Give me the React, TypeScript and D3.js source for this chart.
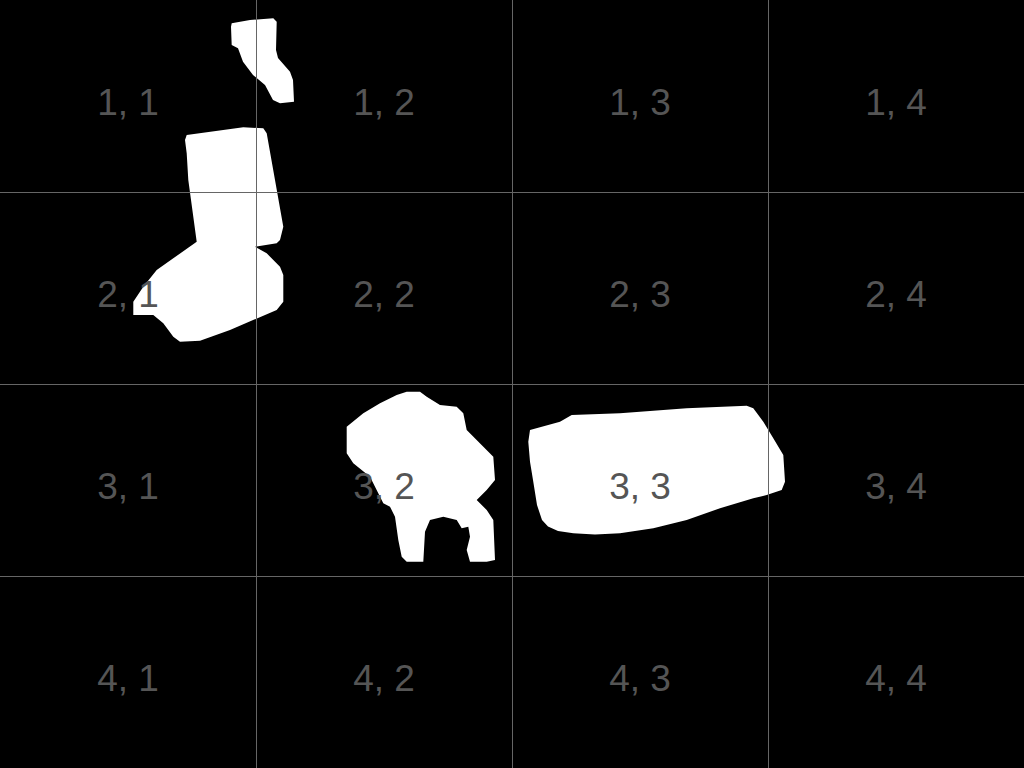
import { useEffect, useRef } from "react"
import * as d3 from "d3"

// grid rows / columns of the overlay
const rows = [1, 2, 3, 4]
const cols = [1, 2, 3, 4]

// mask regions, outline points in image pixel coordinates [x, y]
const blobTop: [number, number][] = [
  [231.7, 23.3], [250, 20], [273.3, 18.3], [276.7, 21.7], [276, 50], [278, 58],
  [290, 71.7], [293, 80], [294, 101.7], [280, 103.3], [273, 100], [265, 85],
  [253, 75], [243, 61.7], [238, 48.3], [231.7, 45], [231, 26.7],
]
const blobBoot: [number, number][] = [
  [186.7, 135], [243.3, 127.3], [263.3, 128.3], [266.7, 133.3], [275, 180],
  [283.3, 226.7], [280, 240], [276.7, 243.3], [255, 246.7], [266.7, 253.3],
  [280, 266.7], [283.3, 275], [283.3, 301.7], [276.7, 310], [230, 330],
  [200, 340.7], [180, 341.7], [173.3, 336.7], [163.3, 323.3], [153.3, 315],
  [133.3, 315], [133.3, 301.7], [143.3, 286.7], [156.7, 270], [173.3, 258.3],
  [196.7, 241.7], [188.3, 180], [186.7, 153.3], [185, 140],
]
const blobChair: [number, number][] = [
  [406.7, 391.7], [420, 391.7], [426.7, 396.7], [440, 405], [456.7, 406.7],
  [463.3, 413.3], [466.7, 430], [493.3, 456.7], [495, 480], [486.7, 490],
  [476.7, 500], [486.7, 510], [493.3, 520], [495, 560], [486.7, 561.7],
  [470, 561.7], [466.7, 550], [470, 536.7], [468.3, 526.7], [461.7, 528.3],
  [456.7, 520], [443.3, 516.7], [430, 520], [425, 531.7], [423.3, 561.7],
  [406.7, 561.7], [401.7, 556.7], [398.3, 540], [395, 516.7], [390, 506.7],
  [383.3, 503.3], [370, 476.7], [353.3, 463.3], [346.7, 453.3], [346.7, 426.7],
  [363.3, 413.3], [380, 403.3], [396.7, 395],
]
const blobCushion: [number, number][] = [
  [530, 430], [560, 421.7], [571.7, 415], [620, 413.3], [686.7, 408.3],
  [746.7, 405.7], [753.3, 408.3], [763.3, 421.7], [773.3, 438.3], [783.3, 455],
  [785, 481.7], [781.7, 490], [766.7, 495], [753.3, 498.3], [720, 508.3],
  [686.7, 520], [653.3, 528.3], [620, 533.3], [595, 534.5], [573.3, 533.3],
  [558, 531], [548, 526.5], [542, 520], [537, 505], [533, 480], [530, 461.7],
  [528.3, 441.7],
]
const blobs = [blobTop, blobBoot, blobChair, blobCushion]

export default function App() {
  const svgRef = useRef<SVGSVGElement>(null)

  useEffect(() => {
    if (!svgRef.current) return
    const width = 1024
    const height = 768

    d3.select(svgRef.current).selectAll("*").remove()
    const svg = d3.select(svgRef.current)

    // image pixel space -> screen
    const px = d3.scaleLinear().domain([0, 1024]).range([0, width])
    const py = d3.scaleLinear().domain([0, 768]).range([0, height])
    // grid space
    const gx = d3.scaleBand<number>().domain(cols).range([0, width])
    const gy = d3.scaleBand<number>().domain(rows).range([0, height])

    svg.append("rect").attr("width", width).attr("height", height).attr("fill", "#000")

    // white mask regions
    const line = d3
      .line<[number, number]>()
      .x((d) => px(d[0]))
      .y((d) => py(d[1]))
      .curve(d3.curveLinearClosed)

    svg
      .selectAll(".blob")
      .data(blobs)
      .enter()
      .append("path")
      .attr("class", "blob")
      .attr("d", (d) => line(d))
      .attr("fill", "#fff")

    // grid lines
    svg
      .selectAll(".vline")
      .data(cols.slice(1))
      .enter()
      .append("line")
      .attr("x1", (d) => (gx(d) as number) + 0.5)
      .attr("x2", (d) => (gx(d) as number) + 0.5)
      .attr("y1", 0)
      .attr("y2", height)
      .attr("stroke", "#666")
      .attr("stroke-width", 1)

    svg
      .selectAll(".hline")
      .data(rows.slice(1))
      .enter()
      .append("line")
      .attr("y1", (d) => (gy(d) as number) + 0.5)
      .attr("y2", (d) => (gy(d) as number) + 0.5)
      .attr("x1", 0)
      .attr("x2", width)
      .attr("stroke", "#666")
      .attr("stroke-width", 1)

    // cell labels
    const cells = rows.flatMap((r) => cols.map((c) => ({ r, c })))
    svg
      .selectAll(".label")
      .data(cells)
      .enter()
      .append("text")
      .attr("x", (d) => (gx(d.c) as number) + gx.bandwidth() / 2)
      .attr("y", (d) => (gy(d.r) as number) + gy.bandwidth() / 2 + 19)
      .attr("text-anchor", "middle")
      .attr("fill", "#555")
      .style("font-family", "'Liberation Sans', Arial, sans-serif")
      .style("font-size", "37px")
      .text((d) => `${d.r}, ${d.c}`)
  }, [])

  return (
    <svg
      ref={svgRef}
      width={1024}
      height={768}
      style={{ position: "fixed", top: 0, left: 0, display: "block" }}
    ></svg>
  )
}
